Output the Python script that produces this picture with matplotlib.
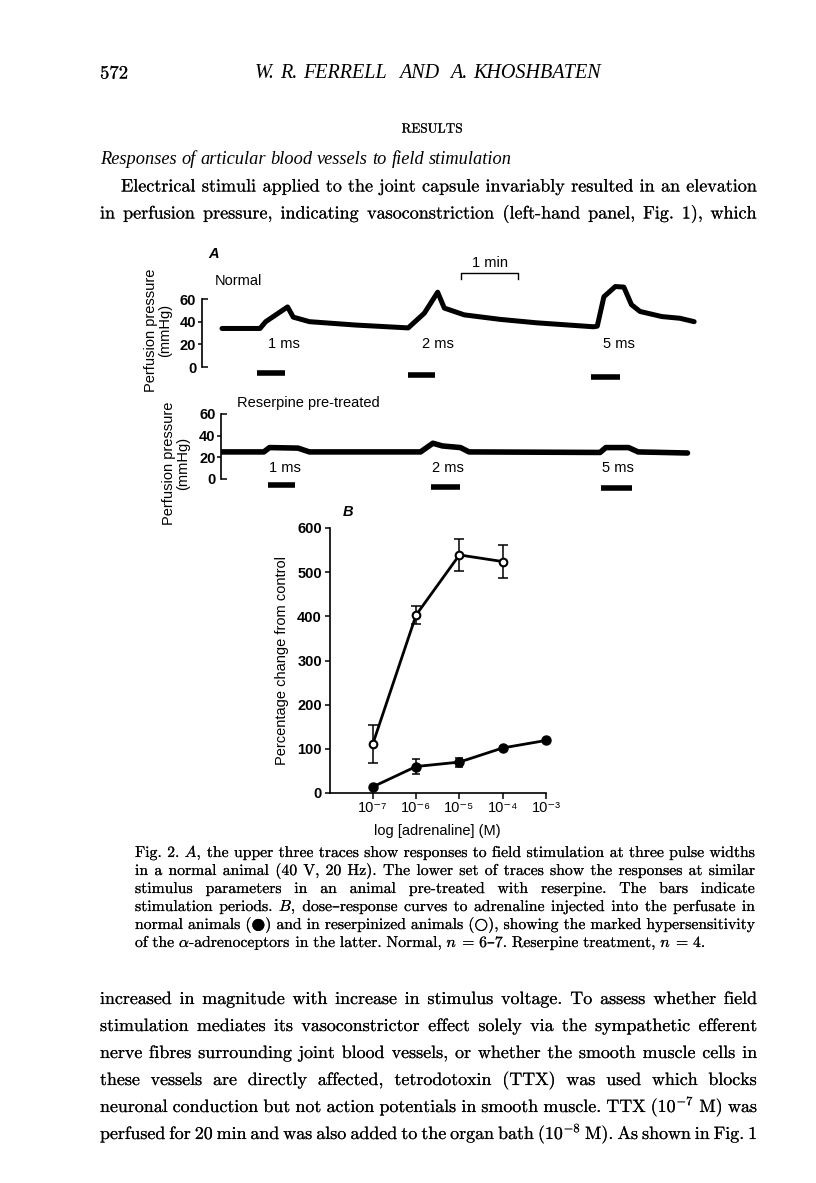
import matplotlib
matplotlib.use("Agg")
import matplotlib.pyplot as plt
import matplotlib.patheffects as pe
import numpy as np

W, H = 816, 1183
DPI = 100
plt.rcParams['mathtext.fontset'] = 'cm'
plt.rcParams['axes.linewidth'] = 1.1

# ---------------- data ----------------
# Panel A, normal animal: time (s) vs perfusion pressure (mmHg)
normal_t = [0, 40, 46, 69, 75, 92, 141, 196, 213, 227, 234, 255, 293, 331, 391, 395, 402, 414, 423, 431, 440, 463, 482, 497]
normal_p = [34, 34, 40, 53, 44, 40, 37, 34.5, 47.5, 66, 52, 46, 42, 39, 35.5, 36, 62, 71, 70.5, 55, 49, 44.5, 43, 40]
normal_stim_on = [37, 196, 388]
normal_stim_off = [66, 224, 419]
normal_stim_y = [-5, -7, -9]
normal_stim_label_t = [65, 227, 418]

# Panel A, reserpine pre-treated
res_t = [0, 44, 50, 80, 92, 209, 222, 232, 251, 260, 398, 404, 428, 438, 490]
res_p = [25, 25, 29, 28.5, 25, 25, 33, 30.5, 29, 25, 24.5, 29, 29, 25, 24]
res_stim_on = [48, 220, 399]
res_stim_off = [77, 250, 432]
res_stim_y = [-5.5, -7.5, -8.5]
res_stim_label_t = [66, 238, 417]

stim_labels = ['1 ms', '2 ms', '5 ms']
scale_bar_t = [252, 312]   # 1 min

# Panel B: dose-response
conc = [1e-7, 1e-6, 1e-5, 1e-4, 1e-3]
normal_resp = [14, 60, 70, 102, 119]
normal_err = [0, 16, 10, 0, 0]
res_conc = [1e-7, 1e-6, 1e-5, 1e-4]
res_resp = [111, 403, 539, 524]
res_err = [43, 21, 36, 37]
xtick_labels = ['10\u207b\u2077', '10\u207b\u2076', '10\u207b\u2075', '10\u207b\u2074', '10\u207b\u00b3']

fig = plt.figure(figsize=(W / DPI, H / DPI), dpi=DPI)
fig.patch.set_facecolor('white')
renderer = fig.canvas.get_renderer()

SANS = ['Liberation Sans', 'DejaVu Sans']
SERIF = ['cmr10', 'DejaVu Serif']
ITAL = ['Liberation Serif', 'DejaVu Serif']
STROKE = [pe.withStroke(linewidth=0.1, foreground='black')]


def fx(x):
    return x / W


def fy(y):
    return 1 - y / H


def ax_px(left, top, right, bottom):
    return fig.add_axes([fx(left), fy(bottom), (right - left) / W, (bottom - top) / H])


def line_words(words, x0, x1, yb, size, family=SERIF, justify=True, gap_em=0.33, style='normal',
               effects=STROKE):
    ts = [fig.text(0, 0, w, fontsize=size, family=family, style=style, va='baseline', ha='left',
                   path_effects=effects) for w in words]
    ws = [t.get_window_extent(renderer).width for t in ts]
    if justify and len(words) > 1:
        gap = (x1 - x0 - sum(ws)) / (len(words) - 1)
    else:
        gap = gap_em * size * DPI / 72
    x = x0
    for t, w in zip(ts, ws):
        t.set_position((fx(x), fy(yb)))
        x += w + gap


# ---------------- page text ----------------
fig.text(fx(100), fy(78.5), '572', fontsize=13.5, family=SERIF, va='baseline', path_effects=STROKE)
line_words('W. R. FERRELL  AND  A. KHOSHBATEN'.split(' '), 255, 601, 78.5, 14.5, family=ITAL,
           style='italic', effects=[])
fig.text(fx(432), fy(132.5), 'RESULTS', fontsize=9.5, family=SERIF, va='baseline', ha='center',
         path_effects=STROKE)
line_words('Responses of articular blood vessels to field stimulation'.split(), 100, 500, 164, 13.2,
           family=ITAL, style='italic', justify=False, gap_em=0.25, effects=[])
line_words('Electrical stimuli applied to the joint capsule invariably resulted in an elevation'.split(),
           121, 757, 191.5, 13.0)
line_words('in perfusion pressure, indicating vasoconstriction (left-hand panel, Fig. 1), which'.split(),
           100, 757, 218.5, 13.0)

cap_lines = [
    ('Fig. 2. $A$, the upper three traces show responses to field stimulation at three pulse widths', True),
    ('in a normal animal (40 V, 20 Hz). The lower set of traces show the responses at similar', True),
    ('stimulus parameters in an animal pre-treated with reserpine. The bars indicate', True),
    ('stimulation periods. $B$, dose\u2013response curves to adrenaline injected into the perfusate in', True),
    ('normal animals (\u25cf) and in reserpinized animals (\u25cb), showing the marked hypersensitivity', True),
    ('of the $\\alpha$-adrenoceptors in the latter. Normal, $n$ = 6\u20137. Reserpine treatment, $n$ = 4.', False),
]
for i, (ln, j) in enumerate(cap_lines):
    line_words(ln.split(), 135, 755, 857 + 18 * i, 11.3, justify=j, gap_em=0.3)

body = [
    'increased in magnitude with increase in stimulus voltage. To assess whether field',
    'stimulation mediates its vasoconstrictor effect solely via the sympathetic efferent',
    'nerve fibres surrounding joint blood vessels, or whether the smooth muscle cells in',
    'these vessels are directly affected, tetrodotoxin (TTX) was used which blocks',
    r'neuronal conduction but not action potentials in smooth muscle. TTX (10$^{-7}$ M) was',
    r'perfused for 20 min and was also added to the organ bath (10$^{-8}$ M). As shown in Fig. 1',
]
for i, ln in enumerate(body):
    line_words(ln.split(), 100, 757, 1004 + 27 * i, 12.9)

# ---------------- Panel A ----------------
PX_PER_S = 57 / 60.0
T0_PX = 222


def t_lim(left_px, right_px):
    return ((left_px - T0_PX) / PX_PER_S, (right_px - T0_PX) / PX_PER_S)


def setup_trace_axes(ax):
    for s in ['top', 'right', 'bottom']:
        ax.spines[s].set_visible(False)
    ax.spines['left'].set_bounds(0, 60)
    ax.spines['left'].set_linewidth(1.2)
    ax.set_xticks([])
    ax.set_yticks([20, 40], labels=['20', '40'])
    ax.set_yticks([0, 60], labels=['0', '60'], minor=True)
    ax.tick_params(axis='y', which='major', direction='out', length=3, width=1.1, pad=0.8,
                   labelsize=10.5)
    ax.tick_params(axis='y', which='minor', direction='in', length=4, width=1.1, pad=3.8,
                   labelsize=10.5)
    for lab in ax.get_yticklabels(which='both'):
        lab.set_family(SANS)
        lab.set_weight('bold')
    ax.patch.set_alpha(0)


# Normal axes: 0 mmHg at y=367 px, 60 at 299 px
axN = ax_px(201.5, 282, 705, 381)
setup_trace_axes(axN)
axN.set_xlim(*t_lim(201.5, 705))
axN.set_ylim(-12.35, 75)
axN.plot(normal_t, normal_p, color='black', lw=3.6, solid_joinstyle='round', solid_capstyle='round')
axN.hlines(normal_stim_y, normal_stim_on, normal_stim_off, color='black', lw=4.0)
for tt, lab in zip(normal_stim_label_t, stim_labels):
    axN.text(tt, 20.5, lab, ha='center', va='center', fontsize=10.5, family=SANS)
axN.text(-8, 76, 'Normal', ha='left', va='center', fontsize=10.5, family=SANS, clip_on=False)
axN.plot([scale_bar_t[0], scale_bar_t[0], scale_bar_t[1], scale_bar_t[1]], [78, 83, 83, 78],
         color='black', lw=1.0, clip_on=False)
axN.text(np.mean(scale_bar_t), 86, '1 min', ha='center', va='bottom', fontsize=10.5, family=SANS,
         clip_on=False)
axN.text(-14, 100, 'A', ha='left', va='center', fontsize=10.5, family=SANS, style='italic',
         weight='bold', clip_on=False)

# Reserpine axes: 0 at y=479 px, 60 at 414 px
axR = ax_px(221, 405, 705, 492)
setup_trace_axes(axR)
axR.set_xlim(*t_lim(221, 705))
axR.set_ylim(-12, 68.3)
axR.plot(res_t, res_p, color='black', lw=4.0, solid_joinstyle='round', solid_capstyle='round')
axR.hlines(res_stim_y, res_stim_on, res_stim_off, color='black', lw=4.0)
for tt, lab in zip(res_stim_label_t, stim_labels):
    axR.text(tt, 10.5, lab, ha='center', va='center', fontsize=10.5, family=SANS)
axR.text(16, 70, 'Reserpine pre-treated', ha='left', va='center', fontsize=10.5, family=SANS,
         clip_on=False)

fig.text(fx(158), fy(330), 'Perfusion pressure\n(mmHg)', rotation=90, ha='center', va='center',
         multialignment='center', fontsize=10.5, family=SANS, linespacing=1.0)
fig.text(fx(176), fy(463), 'Perfusion pressure\n(mmHg)', rotation=90, ha='center', va='center',
         multialignment='center', fontsize=10.5, family=SANS, linespacing=1.0)

# ---------------- Panel B ----------------
axB = ax_px(329.5, 528, 546, 793)
axB.set_xscale('log')
axB.set_xlim(1e-8, 1e-3)
axB.set_ylim(0, 600)
for s in ['top', 'right']:
    axB.spines[s].set_visible(False)
axB.spines['left'].set_linewidth(1.2)
axB.spines['bottom'].set_linewidth(1.2)
axB.set_yticks(np.arange(0, 601, 100))
axB.set_xticks(conc, labels=xtick_labels)
axB.xaxis.set_minor_locator(matplotlib.ticker.NullLocator())
axB.tick_params(axis='y', direction='out', length=3.5, width=1.1, pad=2, labelsize=10.5)
axB.tick_params(axis='x', direction='out', length=4, width=1.1, pad=2, labelsize=10.5)
for lab in axB.get_yticklabels():
    lab.set_family(SANS)
    lab.set_weight('bold')
for lab in axB.get_xticklabels():
    lab.set_family(SANS)
axB.plot(conc, normal_resp, color='black', lw=2.0, marker='o', ms=6.5, mfc='black', mec='black',
         clip_on=False, zorder=3)
axB.errorbar(conc, normal_resp, yerr=normal_err, fmt='none', ecolor='black', elinewidth=1.1,
             capsize=3, capthick=1.1, clip_on=False)
axB.plot(res_conc, res_resp, color='black', lw=2.0, marker='o', ms=5.5, mfc='white', mec='black',
         mew=1.5, clip_on=False, zorder=3)
axB.errorbar(res_conc, res_resp, yerr=res_err, fmt='none', ecolor='black', elinewidth=1.1,
             capsize=3.5, capthick=1.1, clip_on=False)
axB.set_ylabel('Percentage change from control', fontsize=10.5, family=SANS, labelpad=6)
axB.set_xlabel('log [adrenaline] (M)', fontsize=10.5, family=SANS, labelpad=6)
axB.text(0.06, 1.06, 'B', transform=axB.transAxes, ha='left', va='center', fontsize=10.5,
         family=SANS, style='italic', weight='bold')

fig.savefig('out.png', dpi=DPI, facecolor='white')
